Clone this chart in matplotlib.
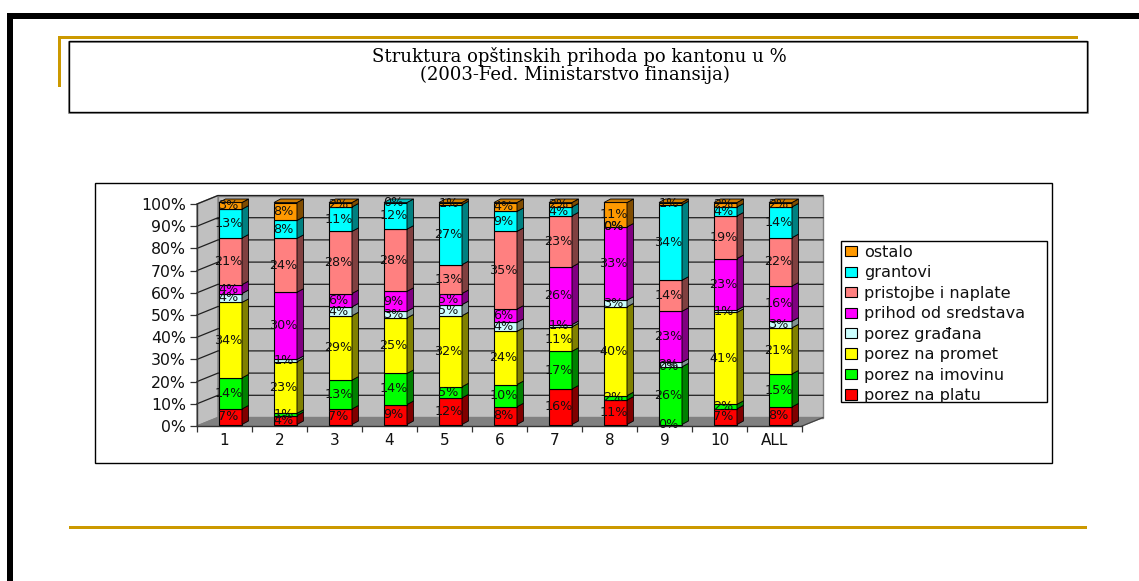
import matplotlib
matplotlib.use("Agg")
from matplotlib import pyplot as plt
from matplotlib.patches import Rectangle, Polygon

categories = ["1", "2", "3", "4", "5", "6", "7", "8", "9", "10", "ALL"]
series_names = ["porez na platu", "porez na imovinu", "porez na promet", "porez građana",
                "prihod od sredstava", "pristojbe i naplate", "grantovi", "ostalo"]
face_colors = ["#FF0000", "#00FF00", "#FFFF00", "#CCFFFF", "#FF00FF", "#FF8080", "#00FFFF", "#FF9900"]
side_colors = ["#800000", "#008000", "#808000", "#7F9090", "#800080", "#804040", "#008080", "#804C00"]
top_colors = ["#C00000", "#00C000", "#C0C000", "#99BFBF", "#C000C0", "#C06060", "#00C0C0", "#CC7A00"]

porez_na_platu = [7, 4, 7, 9, 12, 8, 16, 11, 0, 7, 8]
porez_na_imovinu = [14, 1, 13, 14, 5, 10, 17, 2, 26, 2, 15]
porez_na_promet = [34, 23, 29, 25, 32, 24, 11, 40, 0, 41, 21]
porez_gradjana = [4, 1, 4, 3, 5, 4, 1, 3, 2, 1, 3]
prihod_od_sredstava = [4, 30, 6, 9, 5, 6, 26, 33, 23, 23, 16]
pristojbe_i_naplate = [21, 24, 28, 28, 13, 35, 23, 0, 14, 19, 22]
grantovi = [13, 8, 11, 12, 27, 9, 4, 0, 34, 4, 14]
ostalo = [3, 8, 2, 0, 1, 4, 2, 11, 1, 2, 2]
series = [porez_na_platu, porez_na_imovinu, porez_na_promet, porez_gradjana,
          prihod_od_sredstava, pristojbe_i_naplate, grantovi, ostalo]

W, H = 1139, 581
GOLD = "#CC9900"
fig = plt.figure(figsize=(W / 100, H / 100), dpi=100, facecolor="white")

# full figure axes in pixels, for the slide decoration
deco = fig.add_axes([0, 0, 1, 1])
deco.set_xlim(0, W)
deco.set_ylim(H, 0)
deco.axis("off")


def box(x0, y0, x1, y1, color, lw=0, fill=True):
    deco.add_patch(Rectangle((x0, y0), x1 - x0, y1 - y0, facecolor=color if fill else "none",
                             edgecolor=color if not fill else "none", linewidth=lw))


box(7, 13, 1139, 19, "black")
box(7, 13, 13, 581, "black")
box(58, 36, 1078, 38.5, GOLD)
box(58, 36, 60.5, 87, GOLD)
box(69, 526, 1087, 529, GOLD)
box(69, 41.5, 1088, 113, "#808080", 1.2, False)
box(68.5, 41, 1087, 112, "black", 1.0, False)
box(95, 183, 1052, 463, "black", 1.0, False)
box(841, 241, 1047, 402, "black", 1.0, False)
deco.text(579, 57, "Struktura opštinskih prihoda po kantonu u %", ha="center", va="center",
          family="DejaVu Serif", fontsize=13, color="black")
deco.text(575, 75, "(2003-Fed. Ministarstvo finansija)", ha="center", va="center",
          family="DejaVu Serif", fontsize=13, color="black")

# chart axes: front plane of the 3D box
left, right, top, bottom = 197, 802, 204, 426
ax = fig.add_axes([left / W, 1 - bottom / H, (right - left) / W, (bottom - top) / H])
ax.patch.set_alpha(0)
n = len(categories)
ax.set_xlim(-0.5, n - 0.5)
ax.set_ylim(0, 100)
px_x = n / (right - left)
px_y = 100 / (bottom - top)

wall_dx, wall_dy = 21 * px_x, 8.5 * px_y
x0, x1 = -0.5, n - 0.5
ax.add_patch(Polygon([(x0 + wall_dx, wall_dy), (x1 + wall_dx, wall_dy), (x1 + wall_dx, 100 + wall_dy),
                      (x0 + wall_dx, 100 + wall_dy)], facecolor="#C0C0C0", edgecolor="#808080",
                     lw=1, clip_on=False, zorder=1))
ax.add_patch(Polygon([(x0, 0), (x0 + wall_dx, wall_dy), (x0 + wall_dx, 100 + wall_dy), (x0, 100)],
                     facecolor="#C0C0C0", edgecolor="#808080", lw=1, clip_on=False, zorder=1))
ax.add_patch(Polygon([(x0, 0), (x1, 0), (x1 + wall_dx, wall_dy), (x0 + wall_dx, wall_dy)],
                     facecolor="#808080", edgecolor="#808080", lw=1, clip_on=False, zorder=1))
ax.plot([x1, x1 + wall_dx], [0, wall_dy], color="#404040", lw=0.8, clip_on=False, zorder=2)
for g in range(10, 101, 10):
    ax.plot([x0, x0 + wall_dx, x1 + wall_dx], [g, g + wall_dy, g + wall_dy], color="#202020",
            lw=0.9, clip_on=False, zorder=2)

# bars
bar_w = 23 * px_x
bar_shift_x, bar_shift_y = 6 * px_x, 1.5 * px_y
side_dx, side_dy = 6.5 * px_x, 3.5 * px_y
for i in range(n):
    total = sum(s[i] for s in series)
    base = bar_shift_y
    xc = i + bar_shift_x
    xr = xc + bar_w / 2
    last = None
    labels = []
    for k, s in enumerate(series):
        h = s[i] * 100.0 / total
        if s[i] > 0:
            ax.bar(xc, h, bar_w, bottom=base, color=face_colors[k], edgecolor="black", lw=0.8,
                   zorder=5, clip_on=False)
            ax.add_patch(Polygon([(xr, base), (xr + side_dx, base + side_dy),
                                  (xr + side_dx, base + h + side_dy), (xr, base + h)],
                                 facecolor=side_colors[k], edgecolor="black", lw=0.6,
                                 clip_on=False, zorder=5))
            last = k
        labels.append((k, base + h / 2, "%d%%" % s[i]))
        base += h
    ax.add_patch(Polygon([(xc - bar_w / 2, base), (xr, base), (xr + side_dx, base + side_dy),
                          (xc - bar_w / 2 + side_dx, base + side_dy)],
                         facecolor=top_colors[last], edgecolor="black", lw=0.6, clip_on=False, zorder=5))
    for k, yc, txt in labels:
        ax.text(xc - 2 * px_x, yc, txt, ha="center", va="center", fontsize=9.2, color="#111111",
                zorder=8, clip_on=False)

ax.set_yticks(range(0, 101, 10))
ax.set_yticklabels(["%d%%" % v for v in range(0, 101, 10)], fontsize=11.3, color="#111111")
ax.set_xticks([v - 0.5 for v in range(n + 1)])
ax.set_xticklabels([])
ax.set_xticks(range(n), minor=True)
ax.set_xticklabels(categories, minor=True, fontsize=11, color="#111111")
ax.tick_params(axis="y", length=5, width=0.9, pad=3, color="#333333")
ax.tick_params(axis="x", which="major", length=4, width=0.9, color="#333333")
ax.tick_params(axis="x", which="minor", length=0, pad=5)
for name in ["top", "right"]:
    ax.spines[name].set_visible(False)
for name in ["left", "bottom"]:
    ax.spines[name].set_color("#333333")
    ax.spines[name].set_linewidth(1.0)
    ax.spines[name].set_zorder(3)

# legend, same order as the stack read from the top; its frame is drawn with the decoration
handles = [Rectangle((0, 0), 1, 1, facecolor=face_colors[k], edgecolor="black", lw=0.8)
           for k in range(len(series) - 1, -1, -1)]
names = [series_names[k] for k in range(len(series) - 1, -1, -1)]
leg = ax.legend(handles, names, loc="upper left",
                bbox_to_anchor=(841 / W, 1 - 402 / H, 206 / W, 161 / H), bbox_transform=fig.transFigure,
                mode="expand", borderaxespad=0, borderpad=0.24, fontsize=11.6, labelcolor="#111111",
                frameon=False, handlelength=0.75, handleheight=0.6,
                handletextpad=0.45, labelspacing=0.34)
leg.set_zorder(9)

fig.savefig("out.png", dpi=100)
